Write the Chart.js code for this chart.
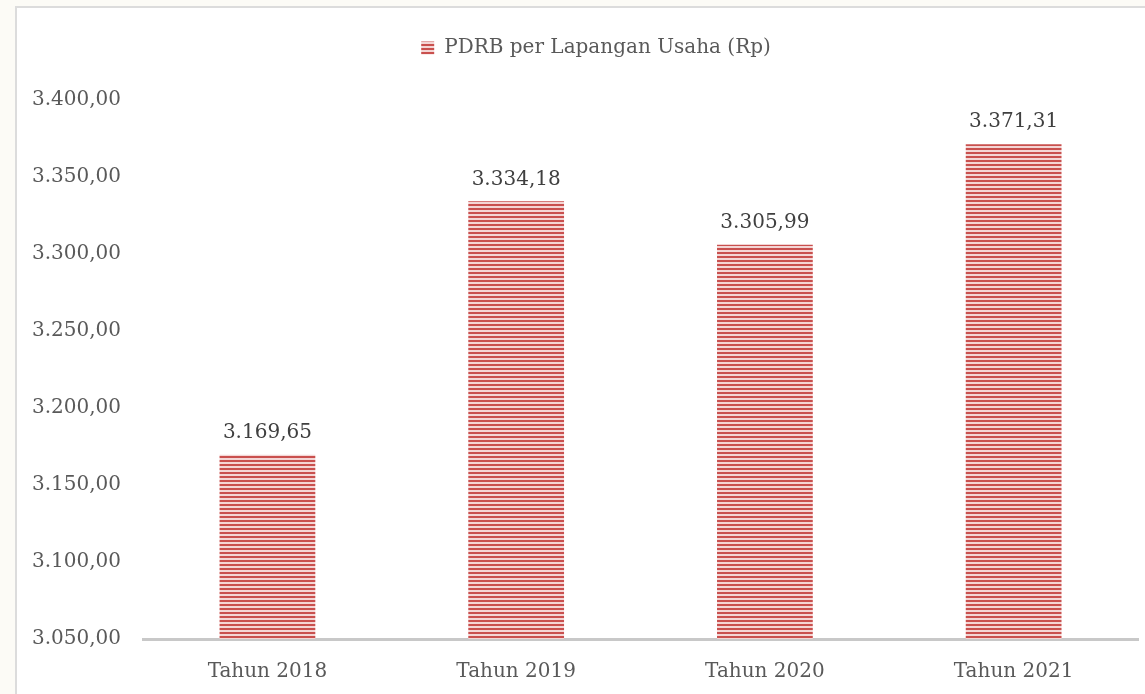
<!DOCTYPE html>
<html>
<head>
<meta charset="utf-8">
<script src="https://cdn.jsdelivr.net/npm/chart.js@4"></script>
<style>
  html, body { margin: 0; padding: 0; background: #fcfbf6; }
  body { width: 1145px; height: 694px; overflow: hidden; position: relative; }
  #kotak {
    position: absolute; left: 15px; top: 6px;
    width: 1140px; height: 720px;
    background: #ffffff; border: 2px solid #dcdcdc;
  }
  #grafik { position: absolute; left: 0; top: 0; }
</style>
</head>
<body>
<div id="kotak">
  <canvas id="grafik" width="1128" height="700"></canvas>
</div>
<script>
// data dari grafik
const tahun = ['Tahun 2018', 'Tahun 2019', 'Tahun 2020', 'Tahun 2021'];
const nilaiPDRB = [3169.65, 3334.18, 3305.99, 3371.31];
const namaSeri = 'PDRB per Lapangan Usaha (Rp)';
const sumbuMin = 3050;
const sumbuMax = 3400;
const langkah = 50;

const abu = '#595959';
const huruf = 'DejaVu Serif';

// format angka gaya Indonesia: 3.169,65
const formatRp = (v) => {
    const s = Number(v).toFixed(2).split('.');
    return s[0].replace(/\B(?=(\d{3})+(?!\d))/g, '.') + ',' + s[1];
};

// pola garis horizontal seperti isian batang di Excel
const buatPola = () => {
    const c = document.createElement('canvas');
    c.width = 4;
    c.height = 4;
    const g = c.getContext('2d');
    g.fillStyle = '#f4d6d5';
    g.fillRect(0, 0, 4, 4);
    g.fillStyle = '#c9504e';
    g.fillRect(0, 0, 4, 2);
    return g.createPattern(c, 'repeat');
};

const ctx = document.getElementById('grafik').getContext('2d');
const pola = buatPola();

// label nilai di atas batang
const labelNilai = {
    id: 'labelNilai',
    afterDatasetsDraw(chart) {
        const c = chart.ctx;
        const meta = chart.getDatasetMeta(0);
        c.save();
        c.font = '20px "' + huruf + '"';
        c.fillStyle = '#404040';
        c.textAlign = 'center';
        c.textBaseline = 'bottom';
        meta.data.forEach((bar, i) => {
            c.fillText(formatRp(nilaiPDRB[i]), bar.x, bar.y - 12);
        });
        c.restore();
    }
};

// beri jarak ekstra di bawah legenda, geser sedikit ke kanan
const jarakLegenda = {
    id: 'jarakLegenda',
    beforeInit(chart) {
        const fitAsli = chart.legend.fit;
        chart.legend.fit = function () {
            fitAsli.bind(chart.legend)();
            this.height += 32;
        };
    },
    afterLayout(chart) {
        chart.legend.left += 22;
    }
};

new Chart(ctx, {
    type: 'bar',
    data: {
        labels: tahun,
        datasets: [{
            label: namaSeri,
            data: nilaiPDRB,
            backgroundColor: pola,
            borderWidth: 0,
            barPercentage: 0.77,
            categoryPercentage: 0.5
        }]
    },
    options: {
        responsive: false,
        animation: false,
        devicePixelRatio: 1,
        layout: { padding: { left: 15, right: 7, top: 0, bottom: 3 } },
        plugins: {
            tooltip: { enabled: false },
            legend: {
                position: 'top',
                labels: {
                    color: abu,
                    font: { family: huruf, size: 20 },
                    boxWidth: 13,
                    boxHeight: 13,
                    padding: 30
                }
            }
        },
        scales: {
            x: {
                grid: { display: false, drawTicks: false },
                border: { display: true, color: '#c8c8c8', width: 3 },
                ticks: { color: abu, font: { family: huruf, size: 20 }, padding: 21 }
            },
            y: {
                min: sumbuMin,
                max: sumbuMax,
                grid: { display: false, drawTicks: false },
                border: { display: false },
                afterFit: (scale) => { scale.width -= 22; },
                ticks: {
                    stepSize: langkah,
                    color: abu,
                    font: { family: huruf, size: 20 },
                    padding: 22,
                    callback: (v) => formatRp(v)
                }
            }
        }
    },
    plugins: [labelNilai, jarakLegenda]
});
</script>
</body>
</html>
